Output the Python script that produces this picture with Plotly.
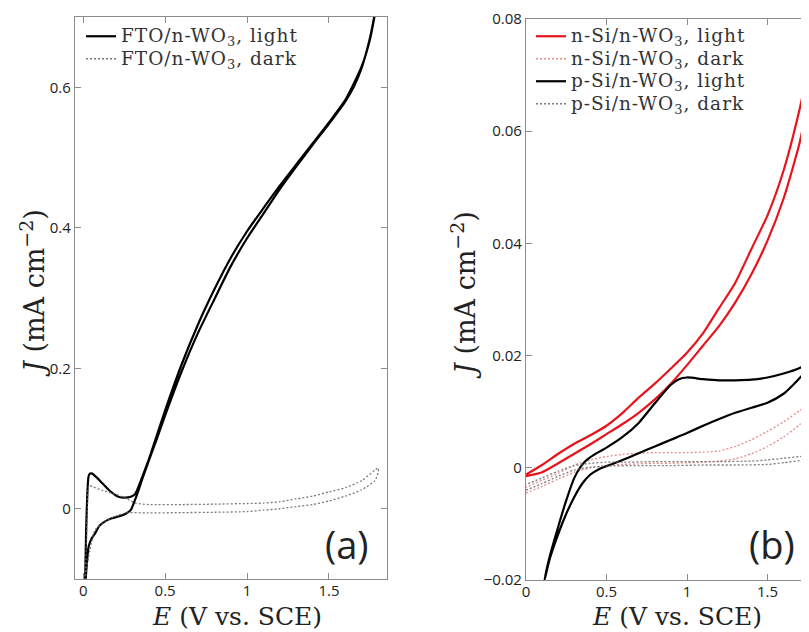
import plotly.graph_objects as go

W, H = 809, 632
OFF = 8  # page body margin offset of the figure inside the browser window

# ---------------- Panel (a) data: FTO/n-WO3 ----------------
fto_light_fwd_E = [0.008, 0.02, 0.033, 0.05, 0.073, 0.1, 0.134, 0.17, 0.215, 0.26, 0.29, 0.317, 0.34, 0.36,
                   0.4, 0.45, 0.5, 0.6, 0.7, 0.8, 0.9, 1.0, 1.1, 1.2, 1.3, 1.4, 1.5, 1.6, 1.65, 1.7, 1.75, 1.78, 1.8]
fto_light_fwd_J = [-0.12, -0.085, -0.054, -0.043, -0.035, -0.024, -0.018, -0.014, -0.011, -0.007, -0.002, 0.013, 0.028, 0.042,
                   0.068, 0.1, 0.133, 0.195, 0.25, 0.298, 0.345, 0.385, 0.42, 0.455, 0.487, 0.518, 0.548, 0.58, 0.6, 0.628, 0.67, 0.705, 0.73]
fto_light_rev_E = [1.8, 1.75, 1.7, 1.6, 1.5, 1.4, 1.3, 1.2, 1.1, 1.0, 0.9, 0.8, 0.7, 0.6, 0.5, 0.45, 0.4, 0.36, 0.33,
                   0.317, 0.29, 0.256, 0.215, 0.16, 0.114, 0.08, 0.055, 0.04, 0.032, 0.025, 0.018, 0.012, 0.008]
fto_light_rev_J = [0.73, 0.668, 0.63, 0.582, 0.55, 0.52, 0.49, 0.46, 0.428, 0.395, 0.357, 0.312, 0.262, 0.205, 0.14, 0.105, 0.07, 0.045, 0.027,
                   0.021, 0.017, 0.0157, 0.017, 0.026, 0.037, 0.045, 0.05, 0.05, 0.045, 0.02, -0.03, -0.1, -0.12]

fto_dark_fwd_E = [0.012, 0.02, 0.04, 0.073, 0.15, 0.256, 0.4, 0.6, 0.8, 1.0, 1.1, 1.2, 1.3, 1.4, 1.5, 1.6, 1.7, 1.78, 1.8]
fto_dark_fwd_J = [-0.1, -0.085, -0.06, -0.03, -0.016, -0.006, -0.006, -0.0055, -0.005, -0.004, -0.002, 0.0, 0.003, 0.006,
                  0.011, 0.018, 0.027, 0.04, 0.052]
fto_dark_rev_E = [1.8, 1.7, 1.6, 1.5, 1.4, 1.3, 1.2, 1.1, 1.0, 0.8, 0.6, 0.4, 0.32, 0.25, 0.18, 0.12, 0.06, 0.035, 0.025, 0.018, 0.012]
fto_dark_rev_J = [0.058, 0.04, 0.03, 0.024, 0.018, 0.014, 0.01, 0.008, 0.0075, 0.0065, 0.006, 0.006, 0.008, 0.016, 0.022, 0.026,
                  0.031, 0.033, 0.0, -0.06, -0.1]

# ---------------- Panel (b) data: n-Si / p-Si ----------------
nsi_light_fwd_E = [0, 0.1, 0.2, 0.3, 0.4, 0.5, 0.6, 0.7, 0.8, 0.9, 1.0, 1.1, 1.2, 1.3, 1.4, 1.5, 1.6, 1.7, 1.75, 1.8]
nsi_light_fwd_J = [-0.0015, -0.0008, 0.0008, 0.0025, 0.0042, 0.006, 0.0078, 0.0098, 0.0122, 0.015, 0.0183, 0.0218, 0.0253,
                   0.0295, 0.0345, 0.0405, 0.048, 0.058, 0.065, 0.072]
nsi_light_rev_E = [1.8, 1.75, 1.7, 1.6, 1.5, 1.4, 1.3, 1.2, 1.1, 1.0, 0.9, 0.8, 0.7, 0.6, 0.5, 0.4, 0.3, 0.2, 0.1, 0]
nsi_light_rev_J = [0.079, 0.071, 0.064, 0.053, 0.045, 0.039, 0.033, 0.0285, 0.024, 0.0205, 0.0177, 0.015, 0.0125, 0.0098,
                   0.0075, 0.0058, 0.0043, 0.0025, 0.0005, -0.0012]

nsi_dark_fwd_E = [0, 0.1, 0.2, 0.3, 0.4, 0.5, 0.6, 0.7, 0.8, 0.9, 1.0, 1.1, 1.2, 1.3, 1.4, 1.5, 1.6, 1.7, 1.75, 1.8]
nsi_dark_fwd_J = [-0.0045, -0.0033, -0.002, -0.0008, 0.0, 0.0004, 0.0006, 0.0007, 0.0008, 0.0008, 0.0009, 0.001, 0.0012,
                  0.0016, 0.0025, 0.0038, 0.0055, 0.0077, 0.009, 0.0105]
nsi_dark_rev_E = [1.8, 1.75, 1.7, 1.6, 1.5, 1.4, 1.3, 1.2, 1.1, 1.0, 0.9, 0.8, 0.7, 0.6, 0.5, 0.4, 0.3, 0.2, 0.1, 0]
nsi_dark_rev_J = [0.0125, 0.0114, 0.0102, 0.0082, 0.0065, 0.005, 0.0038, 0.003, 0.0028, 0.0027, 0.0027, 0.0027, 0.0026,
                  0.0024, 0.002, 0.0014, 0.0005, -0.001, -0.0022, -0.0035]

psi_light_fwd_E = [0.115, 0.15, 0.2, 0.25, 0.3, 0.35, 0.4, 0.45, 0.5, 0.6, 0.7, 0.8, 0.9, 1.0, 1.1, 1.2, 1.3, 1.4, 1.5,
                   1.6, 1.66, 1.7, 1.75, 1.8]
psi_light_fwd_J = [-0.02, -0.016, -0.0118, -0.0082, -0.0052, -0.0028, -0.0012, -0.0003, 0.0003, 0.0014, 0.0026, 0.0038,
                   0.0050, 0.0062, 0.0075, 0.0087, 0.0098, 0.0107, 0.0116, 0.0132, 0.0148, 0.016, 0.0177, 0.0195]
psi_light_rev_E = [1.8, 1.75, 1.7, 1.6, 1.5, 1.4, 1.3, 1.2, 1.1, 1.0, 0.95, 0.9, 0.8, 0.7, 0.6, 0.5, 0.45, 0.4, 0.37,
                   0.34, 0.3, 0.25, 0.2, 0.15, 0.115]
psi_light_rev_J = [0.0195, 0.0186, 0.0178, 0.0168, 0.0161, 0.0157, 0.0156, 0.0156, 0.0158, 0.0161, 0.0158, 0.0148, 0.0115,
                   0.0080, 0.0055, 0.0036, 0.0028, 0.0019, 0.0012, 0.0002, -0.0018, -0.0058, -0.0105, -0.0155, -0.02]

psi_dark_fwd_E = [0, 0.1, 0.2, 0.3, 0.4, 0.5, 0.7, 0.9, 1.1, 1.3, 1.5, 1.6, 1.7, 1.8]
psi_dark_fwd_J = [-0.004, -0.0028, -0.0015, -0.0004, 0.0001, 0.0003, 0.0004, 0.0004, 0.0005, 0.0005, 0.0006, 0.0009,
                  0.0013, 0.0018]
psi_dark_rev_E = [1.8, 1.7, 1.6, 1.5, 1.4, 1.2, 1.0, 0.8, 0.6, 0.5, 0.4, 0.3, 0.2, 0.1, 0]
psi_dark_rev_J = [0.0024, 0.002, 0.0017, 0.0014, 0.0012, 0.0011, 0.0011, 0.0011, 0.001, 0.001, 0.0008, 0.0004, -0.0006,
                  -0.0018, -0.003]

# ---------------- Tick labels ----------------
xa_ticks = [0, 0.5, 1, 1.5]
xa_ticktext = ["0", "0.5", "1", "1.5"]
ya_ticks = [0, 0.2, 0.4, 0.6]
ya_ticktext = ["0", "0.2", "0.4", "0.6"]
xb_ticks = [0, 0.5, 1, 1.5]
xb_ticktext = ["0", "0.5", "1", "1.5"]
yb_ticks = [-0.02, 0, 0.02, 0.04, 0.06, 0.08]
yb_ticktext = ["\u22120.02", "0", "0.02", "0.04", "0.06", "0.08"]

SERIF = "DejaVu Serif"
SANS = "Open Sans"
RED = "#e8141c"
PINK = "rgba(225,110,110,0.8)"
GRAY = "rgba(100,100,100,0.85)"
DOT = "2px,2px"

fig = go.Figure()

def lbl(s):
    return "<span style='font-size:18.5px;letter-spacing:1px'>" + s + "</span>"

def add(xf, yf, xr, yr, name, color, width, dash, xaxis, yaxis, legend):
    fig.add_trace(go.Scatter(
        x=xf + xr, y=yf + yr, mode="lines", name=lbl(name),
        line=dict(color=color, width=width, dash=dash, shape="spline", smoothing=0.6),
        xaxis=xaxis, yaxis=yaxis, legend=legend, showlegend=True,
    ))

add(fto_light_fwd_E, fto_light_fwd_J, fto_light_rev_E, fto_light_rev_J,
    "FTO/n-WO<sub>3</sub>, light", "black", 2.2, "solid", "x", "y", "legend")
add(fto_dark_fwd_E, fto_dark_fwd_J, fto_dark_rev_E, fto_dark_rev_J,
    "FTO/n-WO<sub>3</sub>, dark", GRAY, 1.3, DOT, "x", "y", "legend")

add(nsi_light_fwd_E, nsi_light_fwd_J, nsi_light_rev_E, nsi_light_rev_J,
    "n-Si/n-WO<sub>3</sub>, light", RED, 2.2, "solid", "x2", "y2", "legend2")
add(nsi_dark_fwd_E, nsi_dark_fwd_J, nsi_dark_rev_E, nsi_dark_rev_J,
    "n-Si/n-WO<sub>3</sub>, dark", PINK, 1.3, DOT, "x2", "y2", "legend2")
add(psi_light_fwd_E, psi_light_fwd_J, psi_light_rev_E, psi_light_rev_J,
    "p-Si/n-WO<sub>3</sub>, light", "black", 2.2, "solid", "x2", "y2", "legend2")
add(psi_dark_fwd_E, psi_dark_fwd_J, psi_dark_rev_E, psi_dark_rev_J,
    "p-Si/n-WO<sub>3</sub>, dark", GRAY, 1.3, DOT, "x2", "y2", "legend2")

axis_common = dict(showgrid=False, zeroline=False, showline=True, linecolor="#8c8c8c", linewidth=1.2,
                   ticks="inside", ticklen=6, tickcolor="#8c8c8c", tickwidth=1.2, automargin=False,
                   tickfont=dict(family=SANS, size=15, color="#222"))

def px_x(p):
    return (p - OFF) / W

def px_y(p):
    return 1 - (p - OFF) / H

def ann(text, xp, yp, size, family, angle=0):
    return dict(text=text, x=px_x(xp), y=px_y(yp), xref="paper", yref="paper",
                xanchor="center", yanchor="middle", showarrow=False, textangle=angle,
                font=dict(family=family, size=size, color="#222"))

legend_font = dict(family=SERIF, size=15, color="#333")

fig.update_layout(
    width=W, height=H, margin=dict(l=0, r=0, t=0, b=0, autoexpand=False),
    paper_bgcolor="white", plot_bgcolor="white",
    xaxis=dict(domain=[px_x(75), px_x(387)], range=[-0.05, 1.854], anchor="y",
               tickvals=xa_ticks, ticktext=xa_ticktext, mirror="ticks", ticklabelstandoff=-2, **axis_common),
    yaxis=dict(domain=[px_y(579), px_y(17)], range=[-0.1, 0.7], anchor="x",
               tickvals=ya_ticks, ticktext=ya_ticktext, mirror="ticks", **axis_common),
    xaxis2=dict(domain=[px_x(526), px_x(526 + 1.758 * 161)], range=[0, 1.758], anchor="y2",
                tickvals=xb_ticks, ticktext=xb_ticktext, mirror="ticks", ticklabelstandoff=-2, **axis_common),
    yaxis2=dict(domain=[px_y(580), px_y(19)], range=[-0.02, 0.08], anchor="x2",
                tickvals=yb_ticks, ticktext=yb_ticktext, mirror=False, **axis_common),
    legend=dict(x=px_x(81), y=px_y(20), xanchor="left", yanchor="top",
                font=legend_font, bgcolor="rgba(255,255,255,0)",
                tracegroupgap=0, itemwidth=30),
    legend2=dict(x=px_x(531), y=px_y(20), xanchor="left", yanchor="top",
                 font=legend_font, bgcolor="rgba(255,255,255,0)",
                 tracegroupgap=0, itemwidth=30),
    annotations=[
        ann("<i>E</i> (V vs. SCE)", 237, 616, 25, SERIF),
        ann("<i>E</i> (V vs. SCE)", 677, 616, 25, SERIF),
        ann("<i>J</i> (mA cm<sup>\u22122</sup>)", 32, 293, 27, SERIF, -90),
        ann("<i>J</i> (mA cm<sup>\u22122</sup>)", 463, 295, 27, SERIF, -90),
        ann("(a)", 347, 544, 38, SANS),
        ann("(b)", 772, 544, 38, SANS),
    ],
)

fig.write_html("out.html")
